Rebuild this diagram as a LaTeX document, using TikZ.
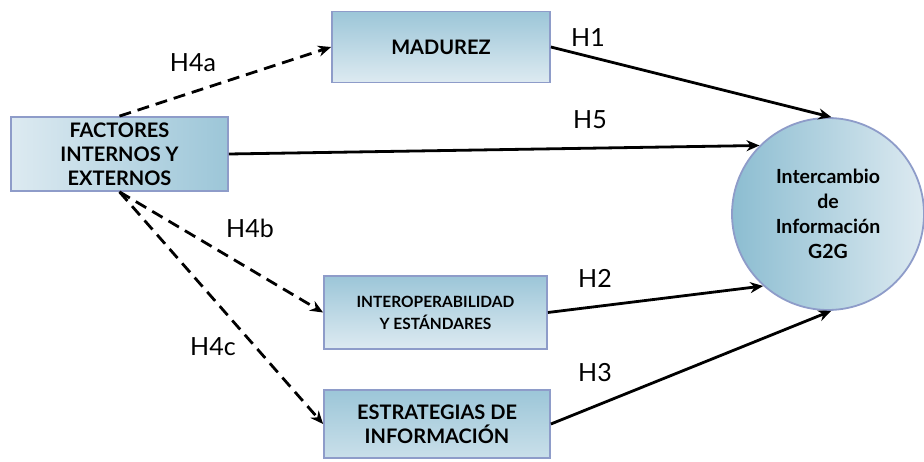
\documentclass[tikz,border=0pt]{standalone}
\usepackage{fontspec}
\setmainfont{Lato}
\usetikzlibrary{arrows.meta,shapes.geometric}
\definecolor{bordc}{HTML}{8E9CC9}
\definecolor{bdark}{HTML}{9CC6D8}
\definecolor{blight}{HTML}{DDEAF1}
\definecolor{cdark}{HTML}{8CBDD1}
\tikzset{
  box/.style={draw=bordc, line width=1.8pt, rectangle, align=center, font=\bfseries\fontsize{20}{24}\selectfont, inner sep=2pt},
  vbox/.style={box, top color=bdark, bottom color=blight},
  circ/.style={draw=bordc, line width=1.8pt, circle, align=center, left color=cdark, right color=blight, font=\bfseries\fontsize{19.5}{25}\selectfont},
  conn/.style={line width=2.8pt, -{Stealth[length=13pt,width=11pt]}},
  dconn/.style={conn, dash pattern=on 12pt off 7pt},
  hlab/.style={font=\fontsize{25}{25}\selectfont, inner sep=0pt}
}
\begin{document}
\begin{tikzpicture}[x=1pt,y=-1pt]
\useasboundingbox (0,0) rectangle (924,462);
\node[box, left color=blight, right color=bdark, minimum width=217pt, minimum height=74pt] (fact) at (119.5,154) {FACTORES\\INTERNOS Y\\EXTERNOS};
\node[vbox, minimum width=218pt, minimum height=71pt] (mad) at (441,47) {MADUREZ};
\node[vbox, minimum width=223pt, minimum height=73pt, font=\bfseries\fontsize{15.5}{22}\selectfont] (inter) at (435.5,312.5) {INTEROPERABILIDAD\\Y ESTÁNDARES};
\node[box, top color=bdark, bottom color=blight!70!bdark, minimum width=226pt, minimum height=68pt] (estr) at (437,424) {ESTRATEGIAS DE\\INFORMACIÓN};
\node[circ, minimum size=192pt, inner sep=0pt] (g2g) at (828,214) {Intercambio\\de\\Información\\G2G};
\draw[dconn] (fact.north) -- (mad.west);
\draw[dconn] (fact.south) -- (inter.west);
\draw[dconn] (fact.south) -- (estr.west);
\draw[conn] (fact.east) -- (g2g.135);
\draw[conn] (mad.east) -- (g2g.88);
\draw[conn] (inter.east) -- (g2g.228);
\draw[conn] (estr.east) -- (g2g.272);
\node[hlab] (l4a) at (193,63) {H4a};
\node[hlab] (l1) at (588,38) {H1};
\node[hlab] (l5) at (590,120) {H5};
\node[hlab] (l4b) at (250,228) {H4b};
\node[hlab] (l4c) at (213,347) {H4c};
\node[hlab] (l2) at (595,278) {H2};
\node[hlab] (l3) at (595,373) {H3};
\end{tikzpicture}
\end{document}
